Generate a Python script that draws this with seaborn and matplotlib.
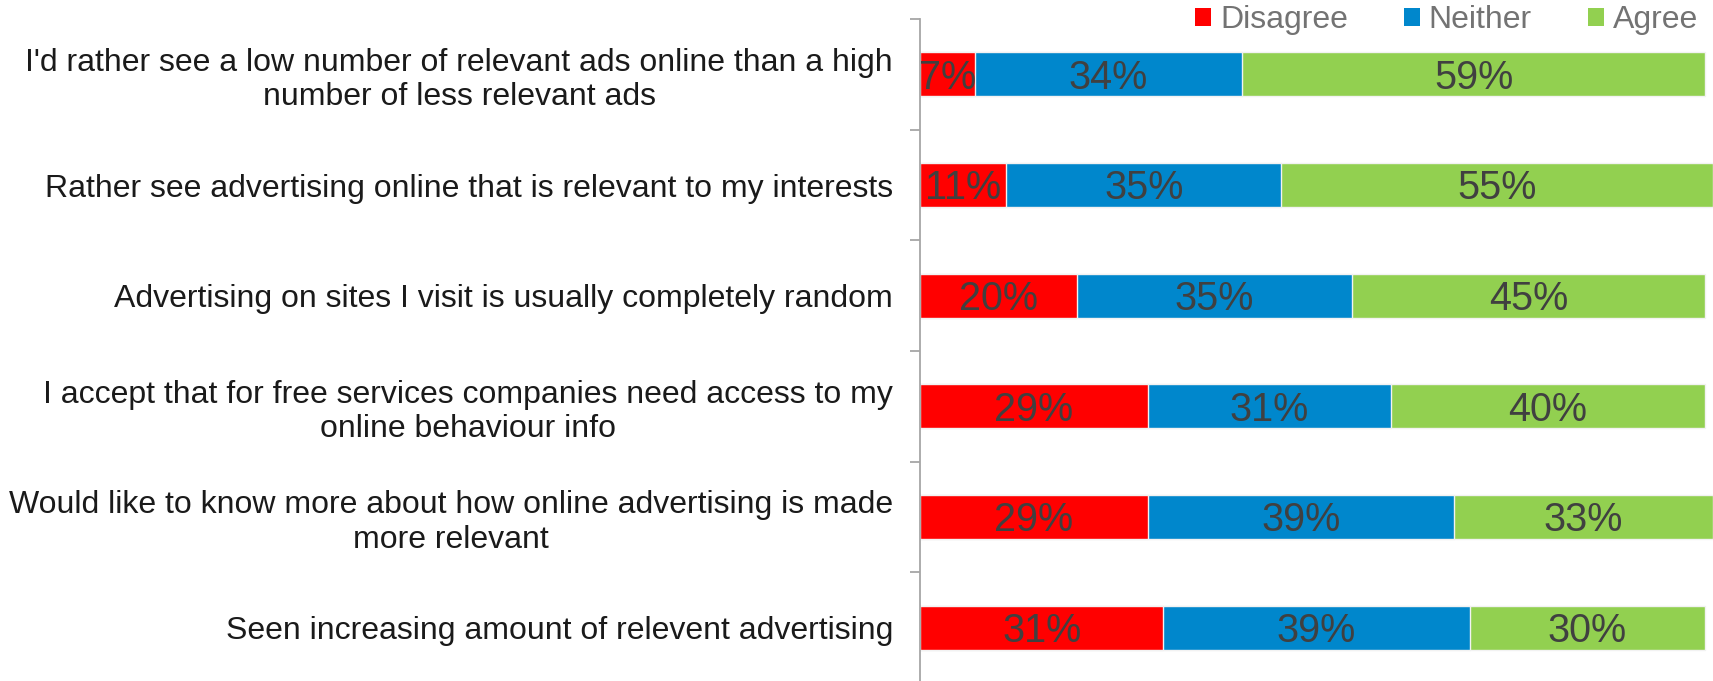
import numpy as np
import pandas as pd
import seaborn as sns
import matplotlib.pyplot as plt
from matplotlib.patches import Patch
from matplotlib.ticker import FixedLocator

# Survey statements (top to bottom) and the share of answers per response
statements = [
    "I'd rather see a low number of relevant ads online than a high\nnumber of less relevant ads",
    "Rather see advertising online that is relevant to my interests",
    "Advertising on sites I visit is usually completely random",
    "I accept that for free services companies need access to my\nonline behaviour info",
    "Would like to know more about how online advertising is made\nmore relevant",
    "Seen increasing amount of relevent advertising",
]
disagree = [7, 11, 20, 29, 29, 31]
neither = [34, 35, 35, 31, 39, 39]
agree = [59, 55, 45, 40, 33, 30]

series = ["Disagree", "Neither", "Agree"]
colors = ["#FF0000", "#0087CC", "#92D050"]

sns.set_theme(style="white")
plt.rcParams["font.family"] = ["Liberation Sans", "DejaVu Sans"]

W, H = 1713, 681
fig = plt.figure(figsize=(W / 100, H / 100), dpi=100)
ax = fig.add_axes([920 / W, -2 / H, 793 / W, 664 / H])

df = pd.DataFrame({"statement": statements, "Disagree": disagree,
                   "Neither": neither, "Agree": agree})
cum = df[series].cumsum(axis=1)
cum["statement"] = df["statement"]

# Stacked bars: draw the running totals from the longest to the shortest
for name, color in reversed(list(zip(series, colors))):
    sns.barplot(data=cum, x=name, y="statement", orient="h", color=color,
                saturation=1, width=0.4, edgecolor="#F2F2F2", linewidth=1,
                ax=ax, errorbar=None)

# Percent labels centred in each segment (baseline offset keeps digits centred)
for i in range(len(df)):
    left = 0
    for name in series:
        v = df.loc[i, name]
        ax.text(left + v / 2, i + 0.13, f"{v}%", ha="center", va="baseline",
                fontsize=28.5, color="#404040")
        left += v

ax.set_xlim(0, 101)
ax.set_ylim(len(df) - 0.5, -0.5)
ax.set_xticks([])
ax.set_xlabel("")
ax.set_ylabel("")

for side in ["top", "right", "bottom"]:
    ax.spines[side].set_visible(False)
ax.spines["left"].set_color("#A6A6A6")
ax.spines["left"].set_linewidth(1.3)

ax.yaxis.set_minor_locator(FixedLocator(np.arange(-0.5, len(df), 1.0)))
ax.tick_params(axis="y", which="minor", left=True, length=7.2, width=1.3,
               color="#A6A6A6")
ax.tick_params(axis="y", which="major", left=True, length=0, pad=19.5,
               labelsize=23, labelcolor="#1A1A1A")
for lbl in ax.get_yticklabels():
    lbl.set_multialignment("center")

handles = [Patch(facecolor=c, edgecolor="none", label=s)
           for s, c in zip(series, colors)]
fig.legend(handles=handles, loc="center right",
           bbox_to_anchor=(1698 / W, 1 - 20 / H), ncol=3, frameon=False,
           fontsize=23, labelcolor="#737373", handlelength=0.5,
           handleheight=0.5, handletextpad=0.28, columnspacing=1.75,
           borderpad=0, borderaxespad=0)

fig.savefig("out.png", dpi=100)
